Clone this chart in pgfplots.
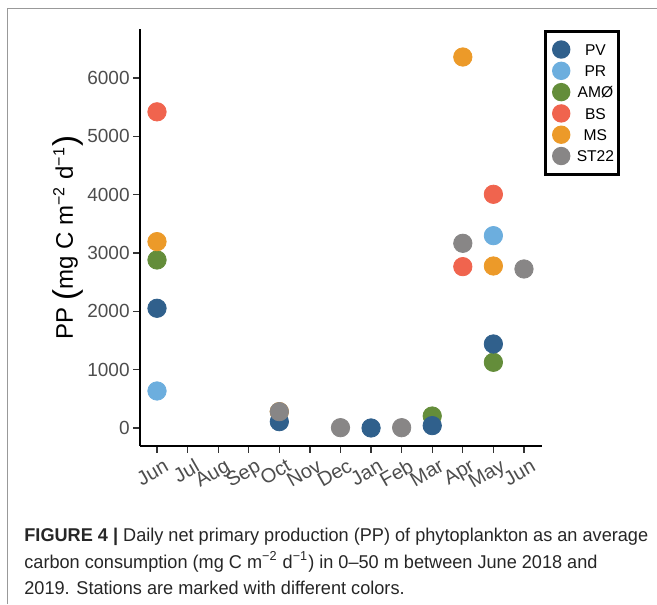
\documentclass[border=0pt]{standalone}
\usepackage{pgfplots}
\pgfplotsset{compat=1.18}
\usepackage{fontspec}
\setmainfont{Liberation Sans}
\newfontfamily\capfont[FakeStretch=0.98]{Liberation Sans}
\definecolor{PVc}{RGB}{48,96,140}
\definecolor{PRc}{RGB}{108,174,222}
\definecolor{AMc}{RGB}{100,141,58}
\definecolor{BSc}{RGB}{240,100,78}
\definecolor{MSc}{RGB}{236,154,41}
\definecolor{STc}{RGB}{136,134,134}
\definecolor{tickgray}{RGB}{77,77,77}
\begin{document}
\begin{tikzpicture}[x=0.5pt,y=0.5pt]
\useasboundingbox (0,0) rectangle (657,604);
\draw[gray!80, line width=0.5pt] (7,0) -- (7,595) -- (657,595);
\begin{axis}[
  at={(70pt,79pt)}, anchor=south west,
  scale only axis, width=201pt, height=208.5pt,
  xmin=-0.556, xmax=12.59, ymin=-309, ymax=6840,
  axis lines*=left,
  axis line style={-, line width=1pt, black},
  xtick={0,...,12},
  xticklabels={Jun,Jul,Aug,Sep,Oct,Nov,Dec,Jan,Feb,Mar,Apr,May,Jun},
  ytick={0,1000,...,6000},
  tick align=outside, major tick length=3.5pt,
  tick style={line width=0.6pt, color=black!80},
  /pgf/number format/assume math mode=true,
  /pgf/number format/1000 sep={},
  yticklabel style={font=\fontsize{9.5}{10}\selectfont, color=tickgray, inner sep=1.5pt},
  xticklabel style={font=\fontsize{10}{10}\selectfont, color=tickgray, rotate=30, anchor=north east, inner sep=1.5pt, xshift=3pt, yshift=-2pt},
  ylabel={PP \raisebox{-1.8pt}{\fontsize{16.5}{16.5}\selectfont(}mg C m\textsuperscript{−2} d\textsuperscript{−1}\raisebox{-1.8pt}{\fontsize{16.5}{16.5}\selectfont)}},
  ylabel style={at={(axis description cs:-0.179,0.5)}, anchor=center, font=\fontsize{12}{13}\selectfont, inner sep=0pt},
  legend image code/.code={\fill[#1, draw=none] (4.6pt,0pt) circle (4.6pt);},
  legend style={at={(1.005,0.998)}, anchor=north west, draw=black, line width=1.5pt, fill=white,
    font=\fontsize{7.8}{8}\selectfont, inner xsep=3.25pt, inner ysep=4.5pt, row sep=1.45pt,
    nodes={inner sep=0pt, text height=5.6pt, text depth=0pt},
    /tikz/every odd column/.append style={column sep=4pt}},
  clip=false,
]
\addlegendimage{fill=PVc}\addlegendentry{\makebox[17pt][c]{PV}}
\addlegendimage{fill=PRc}\addlegendentry{\makebox[17pt][c]{PR}}
\addlegendimage{fill=AMc}\addlegendentry{\makebox[17pt][c]{AMØ}}
\addlegendimage{fill=BSc}\addlegendentry{\makebox[17pt][c]{BS}}
\addlegendimage{fill=MSc}\addlegendentry{\makebox[17pt][c]{MS}}
\addlegendimage{fill=STc}\addlegendentry{\makebox[17pt][c]{ST22}}
% PR
\addplot[forget plot, only marks, mark=*, mark size=4.6pt, color=PRc, mark options={draw=none}] coordinates {(0,634) (11,3297)};
% AMØ
\addplot[forget plot, only marks, mark=*, mark size=4.6pt, color=AMc, mark options={draw=none}] coordinates {(0,2880) (9,205) (11,1126)};
% BS
\addplot[forget plot, only marks, mark=*, mark size=4.6pt, color=BSc, mark options={draw=none}] coordinates {(0,5420) (10,2766) (11,4006)};
% MS
\addplot[forget plot, only marks, mark=*, mark size=4.6pt, color=MSc, mark options={draw=none}] coordinates {(0,3195) (4,280) (10,6360) (11,2777)};
% PV
\addplot[forget plot, only marks, mark=*, mark size=4.6pt, color=PVc, mark options={draw=none}] coordinates {(0,2052) (4,108) (7,0) (9,40) (11,1440)};
% ST22
\addplot[forget plot, only marks, mark=*, mark size=4.6pt, color=STc, mark options={draw=none}] coordinates {(4,280) (6,5) (8,5) (10,3166) (12,2726)};
\end{axis}
\node[anchor=base west, inner sep=0pt, color=black!85] at (24,62) {\capfont\fontsize{9.25}{13}\selectfont{\bfseries FIGURE 4 |} Daily net primary production (PP) of phytoplankton as an average};
\node[anchor=base west, inner sep=0pt, color=black!85] at (24,36) {\capfont\fontsize{9.25}{13}\selectfont carbon consumption (mg C m\textsuperscript{−2} d\textsuperscript{−1}) in 0–50 m between June 2018 and};
\node[anchor=base west, inner sep=0pt, color=black!85] at (24,10) {\capfont\fontsize{9.25}{13}\selectfont 2019. Stations are marked with different colors.};
\end{tikzpicture}
\end{document}
